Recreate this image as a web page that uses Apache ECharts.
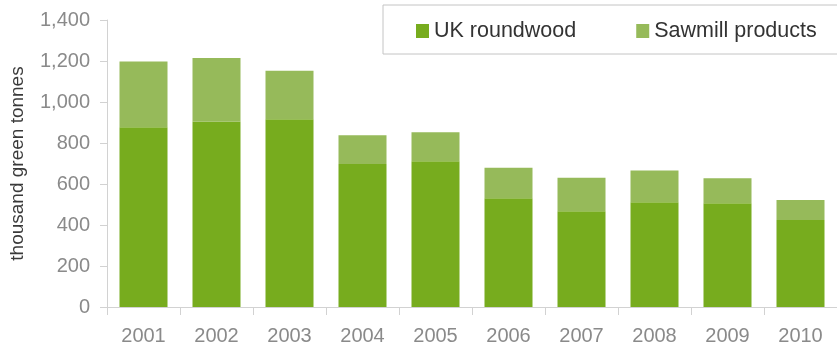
<!DOCTYPE html>
<html>
<head>
<meta charset="utf-8">
<style>
  html, body { margin: 0; padding: 0; background: #ffffff; }
  #chart { width: 837px; height: 359px; }
</style>
<script src="https://cdn.jsdelivr.net/npm/echarts@6/dist/echarts.min.js"></script>
</head>
<body>
<div id="chart"></div>
<script>
// Wood consumption by source, thousand green tonnes
const years = ['2001', '2002', '2003', '2004', '2005', '2006', '2007', '2008', '2009', '2010'];
const ukRoundwood = [877, 905, 916, 698, 711, 531, 467, 511, 506, 425];
const sawmillProducts = [321, 310, 236, 140, 142, 148, 163, 155, 122, 97];
const yTicks = { min: 0, max: 1400, interval: 200 };

const chart = echarts.init(document.getElementById('chart'), null, { renderer: 'canvas' });

const FONT = 'Liberation Sans, Arial, sans-serif';
const axisGray = '#d2d2d2';

chart.setOption({
  animation: false,
  backgroundColor: '#ffffff',
  grid: { left: 107, right: 0, top: 20, bottom: 52, containLabel: false },
  legend: {
    orient: 'horizontal',
    left: 383,
    top: 5,
    width: 430,
    padding: [15, 24, 12, 33],
    borderColor: '#c4c4c4',
    borderWidth: 1,
    itemWidth: 13,
    itemHeight: 14,
    itemGap: 60,
    icon: 'rect',
    textStyle: { fontFamily: FONT, fontSize: 21.5, color: '#333333' },
    data: ['UK roundwood', 'Sawmill products']
  },
  xAxis: {
    type: 'category',
    data: years,
    axisLine: { lineStyle: { color: axisGray, width: 1 } },
    axisTick: { show: true, length: 8, lineStyle: { color: axisGray } },
    axisLabel: { fontFamily: FONT, fontSize: 20, color: '#8a8a8a', margin: 19 }
  },
  yAxis: {
    type: 'value',
    min: yTicks.min,
    max: yTicks.max,
    interval: yTicks.interval,
    name: 'thousand green tonnes',
    nameLocation: 'middle',
    nameGap: 80,
    nameTextStyle: { fontFamily: FONT, fontSize: 19, color: '#3a3a3a' },
    axisLine: { show: true, lineStyle: { color: axisGray, width: 1 } },
    axisTick: { show: true, inside: false, length: 7, lineStyle: { color: axisGray } },
    splitLine: { show: false },
    axisLabel: {
      fontFamily: FONT, fontSize: 20, color: '#8a8a8a', margin: 17,
      formatter: v => v.toLocaleString('en-US')
    }
  },
  series: [
    {
      name: 'UK roundwood',
      type: 'bar',
      stack: 'total',
      barWidth: 48,
      itemStyle: { color: '#77ac1e' },
      data: ukRoundwood
    },
    {
      name: 'Sawmill products',
      type: 'bar',
      stack: 'total',
      barWidth: 48,
      itemStyle: { color: '#96ba5a' },
      data: sawmillProducts
    }
  ]
});
</script>
</body>
</html>
